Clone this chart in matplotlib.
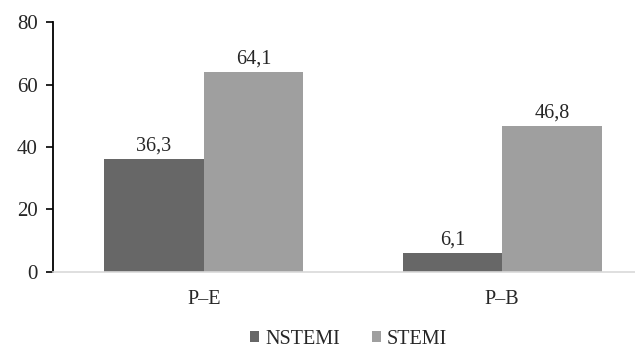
import numpy as np
import matplotlib.pyplot as plt

categories = ['P\u2013E', 'P\u2013B']
nstemi = [36.3, 6.1]
stemi = [64.1, 46.8]
series_names = ['NSTEMI', 'STEMI']

DARK = '#676767'
LIGHT = '#9f9f9f'

plt.rcParams['font.family'] = ['Liberation Serif', 'DejaVu Serif']
plt.rcParams['font.size'] = 15

fig = plt.figure(figsize=(6.35, 3.5), dpi=100)
ax = fig.add_axes([0.0835, 0.223, 0.9165, 0.714])

x = np.arange(len(categories))
w = 0.333
b1 = ax.bar(x - w / 2, nstemi, w, color=DARK, label=series_names[0])
b2 = ax.bar(x + w / 2, stemi, w, color=LIGHT, label=series_names[1])

for bars, vals in [(b1, nstemi), (b2, stemi)]:
    for rect, v in zip(bars, vals):
        ax.text(rect.get_x() + rect.get_width() / 2, v + 1.0,
                ('%.1f' % v).replace('.', ','), ha='center', va='bottom',
                color='#262626', fontsize=14.5)

ax.set_xlim(-0.505, 1.445)
ax.set_ylim(0, 80)
ax.set_yticks([0, 20, 40, 60, 80])
ax.set_xticks(x)
ax.set_xticklabels(categories, fontsize=14.5)
ax.tick_params(axis='x', length=0, pad=13, colors='#262626')
ax.tick_params(axis='y', length=5, width=1.2, direction='out', pad=6, colors='#262626')
ax.tick_params(axis='y', color='black')

for s in ['top', 'right']:
    ax.spines[s].set_visible(False)
ax.spines['left'].set_color('black')
ax.spines['left'].set_linewidth(1.3)
ax.spines['bottom'].set_color('#d9d9d9')
ax.spines['bottom'].set_linewidth(1.2)

fig.legend(handles=[b1, b2], loc='center', bbox_to_anchor=(0.549, 11 / 350),
           ncol=2, frameon=False, handlelength=0.45, handleheight=0.45,
           handletextpad=0.3, columnspacing=1.6, fontsize=14.5,
           borderpad=0, labelcolor='#262626')

fig.savefig('out.png', dpi=100)
